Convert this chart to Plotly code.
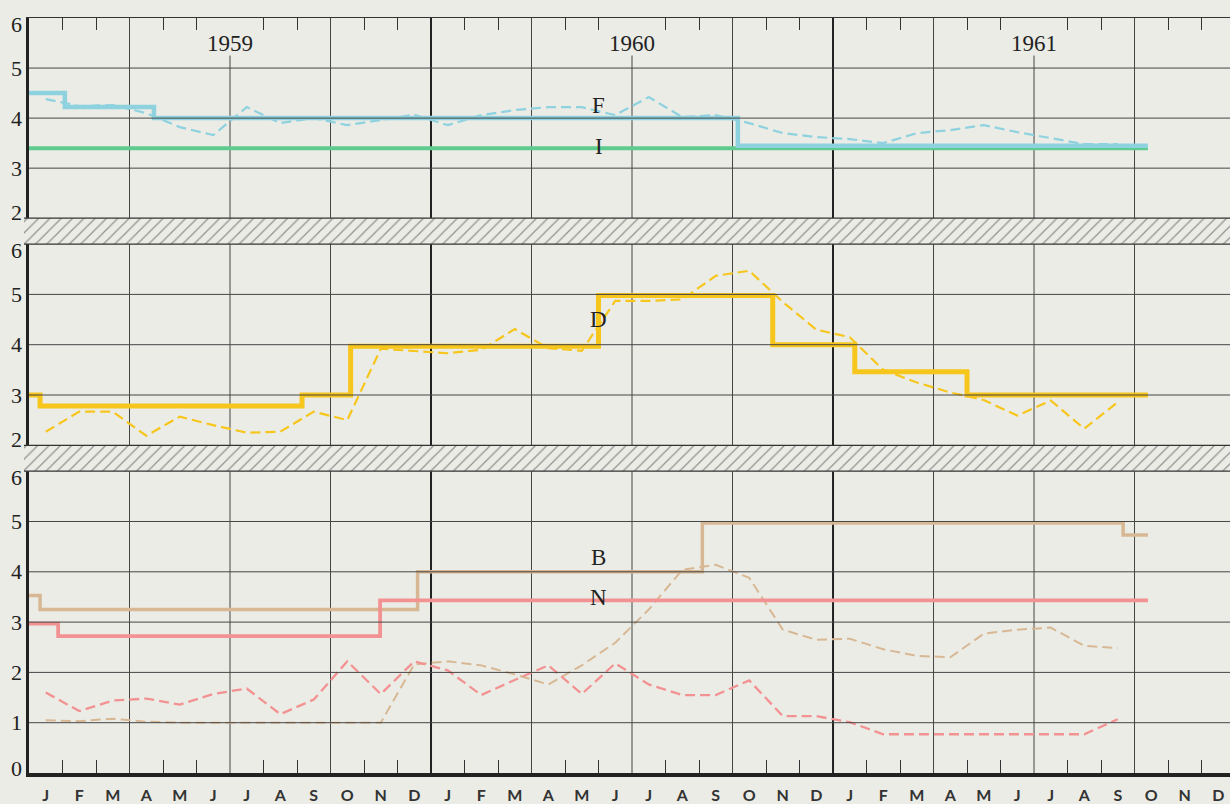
import plotly.graph_objects as go

# ---------------- data ----------------
# months counted from Jan 1959 (0) ; monthly values plotted at month mid-points
months = list(range(33))  # Jan 1959 .. Sep 1961
month_letters = list("JFMAMJJASOND") * 3
years = ["1959", "1960", "1961"]

F_monthly = [4.38, 4.24, 4.26, 4.10, 3.82, 3.66, 4.22, 3.90, 4.00, 3.86, 3.96, 4.07,
             3.86, 4.06, 4.16, 4.22, 4.22, 4.06, 4.42, 4.02, 4.06, 3.90, 3.70, 3.62,
             3.58, 3.50, 3.70, 3.76, 3.86, 3.72, 3.60, 3.48, 3.48]
D_monthly = [2.27, 2.67, 2.67, 2.19, 2.57, 2.40, 2.25, 2.27, 2.67, 2.50, 3.92, 3.88,
             3.83, 3.90, 4.31, 3.93, 3.88, 4.87, 4.87, 4.90, 5.37, 5.47, 4.85, 4.30,
             4.15, 3.50, 3.25, 3.05, 2.90, 2.59, 2.89, 2.33, 2.86]
B_monthly = [1.05, 1.03, 1.08, 1.02, 1.00, 1.00, 1.00, 1.00, 1.00, 1.00, 1.00, 2.16,
             2.22, 2.14, 1.96, 1.76, 2.14, 2.59, 3.25, 4.04, 4.14, 3.88, 2.85, 2.65,
             2.67, 2.46, 2.33, 2.30, 2.77, 2.85, 2.89, 2.53, 2.48]
N_monthly = [1.60, 1.23, 1.44, 1.48, 1.36, 1.57, 1.68, 1.17, 1.46, 2.22, 1.57, 2.22,
             2.04, 1.55, 1.85, 2.14, 1.57, 2.18, 1.76, 1.55, 1.55, 1.84, 1.13, 1.13,
             1.01, 0.77, 0.77, 0.77, 0.77, 0.77, 0.77, 0.77, 1.07]

# step series: change points (month position) and level from that point on
F_step_x = [0, 1.07, 3.73, 21.16, 33.4]
F_step_y = [4.50, 4.22, 4.00, 3.45, 3.45]
I_step_x = [0, 33.4]
I_step_y = [3.40, 3.40]
D_step_x = [0, 0.33, 8.15, 9.6, 17.0, 22.2, 24.65, 28.0, 33.4]
D_step_y = [3.00, 2.78, 3.00, 3.97, 4.98, 4.00, 3.46, 3.00, 3.00]
B_step_x = [0, 0.33, 11.6, 20.1, 32.66, 33.4]
B_step_y = [3.53, 3.25, 4.00, 4.97, 4.73, 4.73]
N_step_x = [0, 0.87, 10.48, 33.4]
N_step_y = [2.97, 2.72, 3.43, 3.43]

# ---------------- style ----------------
BG = "#ebece6"
GRID = "#454545"
C_F = "#8fd2df"
C_I = "#5fcb8e"
C_D = "#f6c61c"
C_B = "#d8b894"
C_N = "#f39292"
SERIF = "Liberation Serif"

W_PLOT = 1206          # plot area width in px (1230 - left margin 24)
H_PLOT = 758           # plot area height in px
X_START = 5 / W_PLOT   # main axes start 5 px right of plot area start
X_MAX = 35.85

dom_bottom = [0, 303 / H_PLOT]
dom_middle = [329 / H_PLOT, 531 / H_PLOT]
dom_top = [557 / H_PLOT, 1]
bands = [(303, 329), (531, 557)]

mid = [m + 0.5 for m in months]

fig = go.Figure()

def step(x, y, color, width, xa, ya):
    fig.add_trace(go.Scatter(x=x, y=y, mode="lines", line=dict(color=color, width=width, shape="hv"),
                             xaxis=xa, yaxis=ya, hoverinfo="skip"))

def dashed(y, color, width, xa, ya):
    fig.add_trace(go.Scatter(x=mid, y=y, mode="lines", line=dict(color=color, width=width, dash="10px,5px"),
                             xaxis=xa, yaxis=ya, hoverinfo="skip"))

# top panel
step(I_step_x, I_step_y, C_I, 4, "x3", "y3")
dashed(F_monthly, C_F, 2.2, "x3", "y3")
step(F_step_x, F_step_y, C_F, 4.5, "x3", "y3")
# middle panel
dashed(D_monthly, C_D, 2.2, "x2", "y2")
step(D_step_x, D_step_y, C_D, 5, "x2", "y2")
# bottom panel
dashed(B_monthly, C_B, 2, "x", "y")
dashed(N_monthly, C_N, 2.3, "x", "y")
step(B_step_x, B_step_y, C_B, 3.5, "x", "y")
step(N_step_x, N_step_y, C_N, 3.8, "x", "y")

# hatched separator bands (overlay axis in pixel units)
for b0, b1 in bands:
    fig.add_trace(go.Scatter(x=[0, W_PLOT, W_PLOT, 0, 0], y=[b0, b0, b1, b1, b0], mode="lines",
                             fill="toself", fillcolor=BG,
                             fillpattern=dict(shape="/", size=8, solidity=0.16, fgcolor="#3a3a3a", bgcolor=BG),
                             line=dict(width=0), xaxis="x4", yaxis="y4", hoverinfo="skip"))
    fig.add_trace(go.Scatter(x=[0, W_PLOT, None, 0, W_PLOT], y=[b0, b0, None, b1, b1], mode="lines",
                             line=dict(color="#333", width=1.3), xaxis="x4", yaxis="y4", hoverinfo="skip"))

# ---------------- grid lines ----------------
shapes = []
panels = [("x", "y", [1, 2, 3, 4, 5]), ("x2", "y2", [3, 4, 5]), ("x3", "y3", [3, 4, 5])]
for xa, ya, hvals in panels:
    for m in range(3, 36, 3):
        yearline = m % 12 == 0
        if ya == "y3" and m % 12 == 6:
            shapes.append(dict(type="line", xref=xa, yref=ya, x0=m, x1=m, y0=2, y1=5.25,
                               line=dict(color=GRID, width=1), layer="below"))
        else:
            shapes.append(dict(type="line", xref=xa, yref=ya + " domain", x0=m, x1=m, y0=0, y1=1,
                               line=dict(color="#222" if yearline else GRID, width=2 if yearline else 1),
                               layer="below"))
    for v in hvals:
        shapes.append(dict(type="line", xref=xa + " domain", yref=ya, x0=0, x1=1, y0=v, y1=v,
                           line=dict(color=GRID, width=1), layer="above"))

# ---------------- annotations ----------------
annotations = []
for i, yr in enumerate(years):
    annotations.append(dict(x=6 + 12 * i, y=5.5, xref="x3", yref="y3", text=yr, showarrow=False,
                            font=dict(family=SERIF, size=23, color="#222")))
for txt, yv, xa, ya in [("F", 4.26, "x3", "y3"), ("I", 3.44, "x3", "y3"), ("D", 4.51, "x2", "y2"),
                        ("B", 4.28, "x", "y"), ("N", 3.49, "x", "y")]:
    annotations.append(dict(x=17, y=yv, xref=xa, yref=ya, text=txt, showarrow=False,
                            font=dict(family=SERIF, size=23, color="#222")))

# y-axis value labels (edge labels nudged inward as in the original)
ylabel_sets = [("y", 0, 6), ("y2", 2, 6), ("y3", 2, 6)]
for ya, lo, hi in ylabel_sets:
    for v in range(lo, hi + 1):
        shift = 0
        if v == hi:
            shift = -6
        elif v == lo:
            shift = 4 if lo == 0 else 6
        annotations.append(dict(x=0, y=v, xref="paper", yref=ya, text=str(v), showarrow=False,
                                xanchor="right", yanchor="middle", xshift=0, yshift=shift,
                                font=dict(family=SERIF, size=22, color="#222")))

minor_ticks = [m for m in range(37) if m % 3]

common_x = dict(range=[0, X_MAX], domain=[X_START, 1], showgrid=False, zeroline=False, fixedrange=True)
common_y = dict(showgrid=False, zeroline=False, showline=True, linewidth=3, linecolor="#222",
                ticks="", showticklabels=False, fixedrange=True)

fig.update_layout(
    width=1230, height=804,
    margin=dict(l=24, r=0, t=18, b=28, pad=0),
    paper_bgcolor=BG, plot_bgcolor="rgba(0,0,0,0)",
    showlegend=False,
    xaxis=dict(**common_x, anchor="y", showline=True, linewidth=3.5, linecolor="#222",
               tickmode="array", tickvals=mid + [33.5, 34.5, 35.5], ticktext=month_letters, ticks="",
               ticklabelstandoff=5,
               tickfont=dict(family="Lato", size=16, color="#333", weight=700),
               minor=dict(tickmode="array", tickvals=minor_ticks, ticks="inside", ticklen=13,
                          tickcolor="#333", tickwidth=1, showgrid=False)),
    xaxis2=dict(**common_x, anchor="y2", showline=False, showticklabels=False, ticks=""),
    xaxis3=dict(**common_x, anchor="y3", side="top", showline=True, linewidth=1.2, linecolor="#333",
                tickmode="array", tickvals=minor_ticks, ticks="inside", ticklen=12, tickcolor="#333",
                tickwidth=1, showticklabels=False),
    xaxis4=dict(domain=[0, 1], range=[0, W_PLOT], visible=False, anchor="y4", fixedrange=True),
    yaxis=dict(**common_y, domain=dom_bottom, range=[0, 6], anchor="x"),
    yaxis2=dict(**common_y, domain=dom_middle, range=[2, 6], anchor="x2"),
    yaxis3=dict(**common_y, domain=dom_top, range=[2, 6], anchor="x3"),
    yaxis4=dict(domain=[0, 1], range=[0, H_PLOT], visible=False, anchor="x4", fixedrange=True),
    shapes=shapes,
    annotations=annotations,
)

fig.write_html("out.html", config={"displayModeBar": False},
               post_script="document.body.style.margin='0';document.body.style.overflow='hidden';"
                           "document.body.style.background='%s';" % BG)
